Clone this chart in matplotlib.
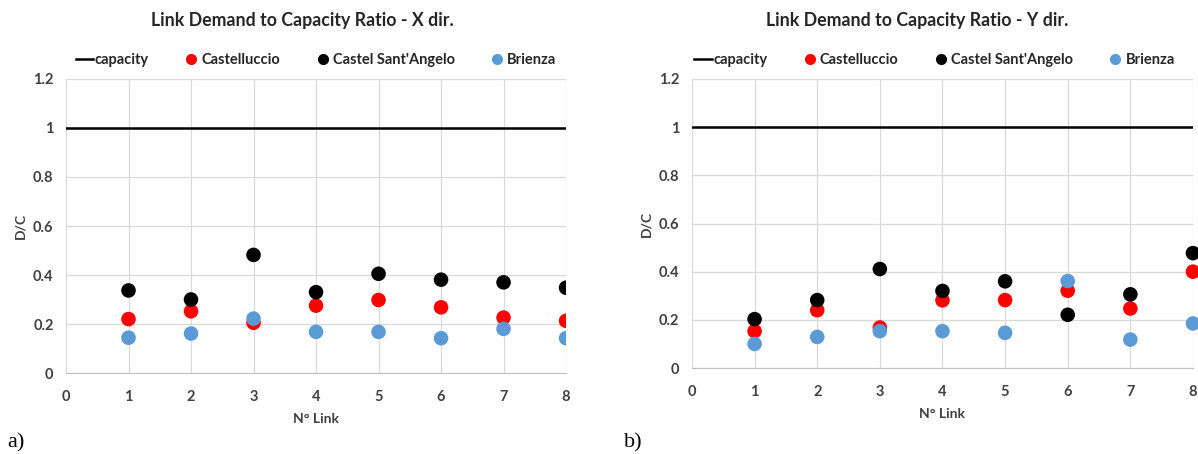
import matplotlib
matplotlib.use("Agg")
import matplotlib.pyplot as plt
from matplotlib.lines import Line2D

# Link numbers
links = [1, 2, 3, 4, 5, 6, 7, 8]
capacity = 1.0

# X direction D/C ratios
x_castelluccio = [0.22, 0.252, 0.205, 0.275, 0.298, 0.268, 0.226, 0.213]
x_sant_angelo = [0.337, 0.30, 0.482, 0.33, 0.405, 0.381, 0.37, 0.348]
x_brienza = [0.144, 0.161, 0.222, 0.168, 0.168, 0.142, 0.18, 0.142]

# Y direction D/C ratios
y_castelluccio = [0.153, 0.24, 0.168, 0.281, 0.282, 0.321, 0.247, 0.40]
y_sant_angelo = [0.203, 0.282, 0.411, 0.32, 0.36, 0.221, 0.306, 0.477]
y_brienza = [0.10, 0.129, 0.153, 0.153, 0.146, 0.361, 0.118, 0.185]

plt.rcParams['font.family'] = ['Lato', 'DejaVu Sans']
plt.rcParams['font.weight'] = 'bold'

RED = '#ff0000'
BLACK = '#000000'
BLUE = '#5b9bd5'

fig = plt.figure(figsize=(11.98, 4.54), dpi=100)


def draw_panel(ax, red, black, blue, title, title_x, leg_x):
    ax.axhline(capacity, color='black', lw=1.8, zorder=3)
    ax.scatter(links, red, s=110, color=RED, zorder=4, edgecolors='none')
    ax.scatter(links, black, s=110, color=BLACK, zorder=4, edgecolors='none')
    ax.scatter(links, blue, s=110, color=BLUE, zorder=5, edgecolors='none')
    ax.set_xlim(0, 8)
    ax.set_ylim(0, 1.2)
    ax.set_xticks(range(0, 9))
    ax.set_yticks([0, 0.2, 0.4, 0.6, 0.8, 1.0, 1.2])
    ax.set_yticklabels(['0', '0.2', '0.4', '0.6', '0.8', '1', '1.2'])
    ax.grid(True, color='#d9d9d9', lw=0.9)
    ax.set_axisbelow(True)
    for s in ['top', 'right', 'left']:
        ax.spines[s].set_visible(False)
    ax.spines['bottom'].set_color('#bfbfbf')
    ax.tick_params(length=0, labelsize=10.5, colors='#404040')
    ax.tick_params(axis='x', pad=12)
    ax.tick_params(axis='y', pad=9)
    for lab in ax.get_xticklabels() + ax.get_yticklabels():
        lab.set_fontweight('bold')
    ax.set_xlabel("N° Link", fontsize=10, fontweight='bold', color='#404040', labelpad=7)
    ax.set_ylabel("D/C", fontsize=10, fontweight='bold', color='#404040', labelpad=5)
    fig.text(title_x, 0.955, title, ha='center', va='center', fontsize=12.8,
             fontweight='bold', color='#262626')
    handles = [
        Line2D([], [], color='black', lw=1.8),
        Line2D([], [], marker='o', ls='', color=RED, markersize=7),
        Line2D([], [], marker='o', ls='', color=BLACK, markersize=7),
        Line2D([], [], marker='o', ls='', color=BLUE, markersize=7),
    ]
    leg = fig.legend(handles, ['capacity', 'Castelluccio', "Castel Sant'Angelo", 'Brienza'],
                     loc='center', bbox_to_anchor=(leg_x, 0.868), ncol=4, frameon=False,
                     fontsize=10.5, handlelength=1.2, handletextpad=0.1, columnspacing=2.3)
    for t in leg.get_texts():
        t.set_fontweight('bold')
        t.set_color('#262626')


ax1 = fig.add_axes([0.0551, 0.1784, 0.4174, 0.6476])
draw_panel(ax1, x_castelluccio, x_sant_angelo, x_brienza,
           "Link Demand to Capacity Ratio - X dir.", 0.252, 0.264)

ax2 = fig.add_axes([0.5776, 0.1894, 0.4182, 0.6366])
draw_panel(ax2, y_castelluccio, y_sant_angelo, y_brienza,
           "Link Demand to Capacity Ratio - Y dir.", 0.766, 0.78)
for c in ax2.collections:
    c.set_clip_on(False)

fig.text(0.006, 0.015, "a)", fontsize=16, family='Liberation Serif', fontweight='normal')
fig.text(0.521, 0.015, "b)", fontsize=16, family='Liberation Serif', fontweight='normal')

fig.savefig("out.png", dpi=100)
